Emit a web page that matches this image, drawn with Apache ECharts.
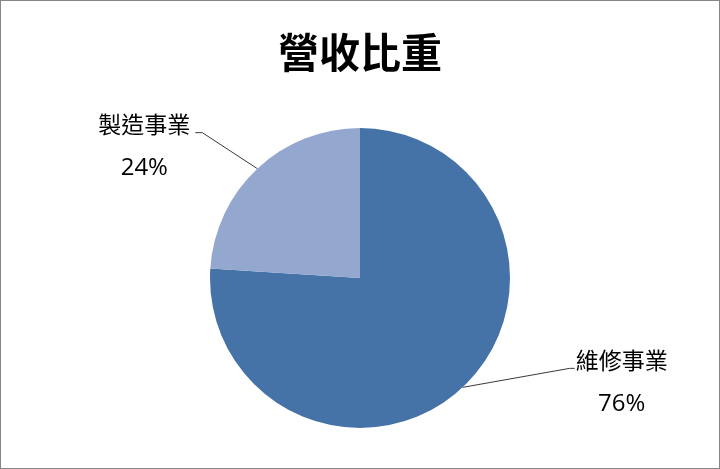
<!DOCTYPE html>
<html>
<head>
<meta charset="utf-8">
<script src="https://cdn.jsdelivr.net/npm/echarts@6/dist/echarts.min.js"></script>
<style>
html, body { margin: 0; padding: 0; background: #fff; }
#main { width: 720px; height: 469px; box-sizing: border-box; border: 1px solid #868686; }
</style>
</head>
<body>
<div id="main"></div>
<script>
var myChart = echarts.init(document.getElementById('main'));

var titleText = '營收比重';
var categories = ['維修事業', '製造事業'];
var values = [76, 24];
var colors = ['#4572A7', '#94A7CF'];

var pieData = [];
for (var i = 0; i < categories.length; i++) {
    pieData.push({ name: categories[i], value: values[i], itemStyle: { color: colors[i] } });
}

var cjk = '"Noto Sans CJK TC", "Noto Sans CJK SC", sans-serif';

option = {
    backgroundColor: '#fff',
    animation: false,
    title: {
        text: titleText,
        left: 'center',
        top: 26,
        textStyle: {
            fontFamily: cjk,
            fontSize: 41,
            fontWeight: 'bold',
            color: '#000'
        }
    },
    series: [
        {
            type: 'pie',
            center: [359, 277],
            radius: 150,
            startAngle: 90,
            clockwise: true,
            data: pieData,
            label: {
                show: true,
                position: 'outside',
                formatter: function (p) {
                    return '{n|' + p.name + '}\n{p|' + Math.round(p.percent) + '%}';
                },
                rich: {
                    n: { fontFamily: cjk, fontSize: 23, lineHeight: 30, color: '#000', align: 'center' },
                    p: { fontFamily: '"Open Sans", "Noto Sans", sans-serif', fontSize: 24, lineHeight: 58, color: '#000', align: 'center' }
                }
            },
            labelLine: {
                show: true,
                length: 20,
                length2: 10,
                lineStyle: { color: '#3a3a3a', width: 1 }
            },
            labelLayout: function (p) {
                var e = p.labelLinePoints[0];
                var elbow, end, x, align;
                if (p.dataIndex === 0) {
                    elbow = [e[0] + 107, e[1] - 19];
                    end = [elbow[0] + 5, elbow[1]];
                    x = end[0] + 1;
                    align = 'left';
                } else {
                    elbow = [e[0] - 55, e[1] - 36];
                    end = [elbow[0] - 7, elbow[1]];
                    x = end[0] - 5;
                    align = 'right';
                }
                return {
                    x: x,
                    y: end[1] - 23,
                    align: align,
                    verticalAlign: 'top',
                    labelLinePoints: [e, elbow, end]
                };
            }
        }
    ]
};

myChart.setOption(option);
</script>
</body>
</html>
